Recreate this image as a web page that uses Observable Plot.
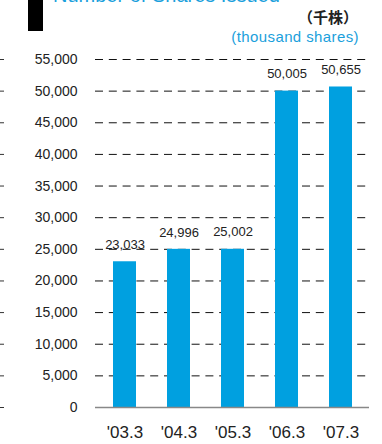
<!DOCTYPE html>
<html>
<head>
<meta charset="utf-8">
<script src="https://cdn.jsdelivr.net/npm/d3@7"></script>
<script src="https://cdn.jsdelivr.net/npm/@observablehq/plot@0.6"></script>
<style>
  html, body { margin: 0; padding: 0; background: #fff; }
  #wrap { position: relative; width: 382px; height: 444px; overflow: hidden; font-family: "Liberation Sans", Arial, sans-serif; }
  #bar { position: absolute; left: 28px; top: 0; width: 15px; height: 31px; background: #000; }
  #title { position: absolute; left: 53px; top: -16px; font-size: 20px; color: #1aa0dc; white-space: nowrap; }
  #unitJa { position: absolute; right: 24px; top: 6px; font-size: 15px; font-weight: bold; color: #222; font-family: "Noto Sans CJK JP", sans-serif; }
  #unitEn { position: absolute; right: 23px; top: 28px; font-size: 15px; color: #1aa0dc; letter-spacing: 0.4px; }
  #chart { position: absolute; left: 0; top: 0; }
</style>
</head>
<body>
<div id="wrap">
  <div id="chart"></div>
  <div id="bar"></div>
  <div id="title">Number of Shares Issued</div>
  <div id="unitJa">（千株）</div>
  <div id="unitEn">(thousand shares)</div>
</div>
<script>
const categories = ["'03.3", "'04.3", "'05.3", "'06.3", "'07.3"];
const values = [23033, 24996, 25002, 50005, 50655];
const valueLabels = ["23,033", "24,996", "25,002", "50,005", "50,655"];
const yTicks = [0, 5000, 10000, 15000, 20000, 25000, 30000, 35000, 40000, 45000, 50000, 55000];
const gridTicks = yTicks.filter(d => d > 0);

const data = categories.map((c, i) => ({cat: c, value: values[i], label: valueLabels[i]}));

const chart = Plot.plot({
  width: 382,
  height: 444,
  marginTop: 59,
  marginBottom: 37,
  marginLeft: 95,
  marginRight: 13,
  style: {fontFamily: "'Liberation Sans', Arial, sans-serif", background: "transparent", overflow: "visible"},
  x: {domain: categories, paddingInner: 0.58, paddingOuter: 0.29, label: null},
  y: {domain: [0, 55000], label: null},
  marks: [
    Plot.ruleY(gridTicks, {stroke: "#111", strokeWidth: 1, strokeDasharray: "8,5.8"}),
    Plot.ruleY(yTicks, {stroke: "#333", strokeWidth: 1, strokeDasharray: "4,2000", dx: -95}),
    Plot.barY(data, {x: "cat", y: "value", fill: "#00a0e0"}),
    Plot.ruleY([0], {stroke: "#888", strokeWidth: 1.5}),
    Plot.text(data, {x: "cat", y: "value", text: "label", dy: -17, fontSize: 13, fill: "#222", style: {letterSpacing: "0.3px"}}),
    Plot.axisY({ticks: yTicks, tickSize: 0, tickPadding: 18, tickFormat: d => d3.format(",")(d), fontSize: 14, fill: "#222", label: null, style: {letterSpacing: "0.5px"}}),
    Plot.axisX({tickSize: 0, tickPadding: 18, fontSize: 17, fill: "#222", label: null})
  ]
});
document.getElementById("chart").appendChild(chart);
</script>
</body>
</html>
